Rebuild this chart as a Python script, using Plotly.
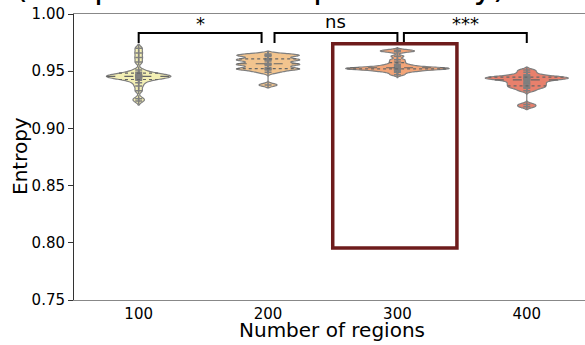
import numpy as np
import plotly.graph_objects as go

# ---- data ----
categories = ["100", "200", "300", "400"]
entropy_100 = [0.970, 0.966, 0.962, 0.958, 0.951, 0.949, 0.948, 0.947, 0.947, 0.946, 0.946, 0.946,
               0.945, 0.945, 0.945, 0.944, 0.944, 0.943, 0.942, 0.940, 0.937, 0.933, 0.926, 0.924]
entropy_200 = [0.965, 0.964, 0.964, 0.963, 0.961, 0.960, 0.960, 0.959, 0.957, 0.956, 0.956, 0.955,
               0.953, 0.952, 0.952, 0.951, 0.949, 0.938]
entropy_300 = [0.968, 0.968, 0.967, 0.963, 0.960, 0.958, 0.956, 0.955, 0.954, 0.953, 0.953, 0.953,
               0.953, 0.952, 0.952, 0.952, 0.952, 0.951, 0.951, 0.950, 0.949, 0.947]
entropy_400 = [0.951, 0.949, 0.947, 0.946, 0.945, 0.945, 0.944, 0.944, 0.944, 0.943, 0.943, 0.942,
               0.941, 0.940, 0.939, 0.938, 0.937, 0.936, 0.935, 0.933, 0.921, 0.919]
series = [entropy_100, entropy_200, entropy_300, entropy_400]
bandwidths = [0.0018, 0.0012, 0.0010, 0.0012]
violin_widths = [0.50, 0.49, 0.80, 0.64]
colors = ["#f3efb4", "#f2c48e", "#f2a477", "#e8806c"]

comparisons = [(0, 1, "*"), (1, 2, "ns"), (2, 3, "***")]
y_ticks = [0.75, 0.80, 0.85, 0.90, 0.95, 1.00]
title_text = "(Deep learned maps stability)"

fig = go.Figure()

for i, (vals, bw, w, c) in enumerate(zip(series, bandwidths, violin_widths, colors)):
    fig.add_trace(go.Violin(
        x=[i] * len(vals), y=vals, bandwidth=bw, width=w, scalemode="width",
        spanmode="soft", fillcolor=c, opacity=1,
        line=dict(color="#7f7f7f", width=1.2),
        points="all", pointpos=0, jitter=0,
        marker=dict(symbol="cross-thin", size=5, color="#7f7f7f",
                    line=dict(color="#7f7f7f", width=1.5)),
        box_visible=False, meanline_visible=False, showlegend=False,
        hoverinfo="skip",
    ))
    # quartile lines (seaborn inner="quartile")
    arr = np.array(vals)
    grid = np.linspace(arr.min() - 2 * bw, arr.max() + 2 * bw, 400)
    dens = lambda y: np.exp(-0.5 * ((y - arr[:, None]) / bw) ** 2).sum(axis=0)
    dmax = dens(grid).max()
    for q, dash in [(25, "dot"), (50, "dash"), (75, "dot")]:
        qv = np.percentile(arr, q)
        hw = w / 2 * dens(np.array([qv]))[0] / dmax
        fig.add_trace(go.Scatter(
            x=[i - hw, i + hw], y=[qv, qv], mode="lines",
            line=dict(color="#666666", width=1.2, dash=dash),
            showlegend=False, hoverinfo="skip"))

# significance brackets
leg_low = 0.9747
top = 0.9834
for a, b, lab in comparisons:
    xa = a + (0.05 if a > 0 else 0)
    xb = b - (0.05 if b == 1 and a == 0 else 0)
    fig.add_trace(go.Scatter(
        x=[xa, xa, xb, xb], y=[leg_low, top, top, leg_low], mode="lines",
        line=dict(color="black", width=2), showlegend=False, hoverinfo="skip"))
    fig.add_annotation(x=(xa + xb) / 2, y=top, text=lab, showarrow=False,
                       yanchor="bottom", yshift=-3 if lab != "ns" else -1,
                       font=dict(family="DejaVu Sans", size=18, color="black"))

# highlight rectangle
fig.add_shape(type="rect", x0=1.5, x1=2.46, y0=0.7955, y1=0.974,
              line=dict(color="#6e1c1c", width=3.5), fillcolor="rgba(0,0,0,0)")

fig.update_layout(
    width=585, height=345,
    margin=dict(l=74, r=0, t=14, b=45),
    plot_bgcolor="white", paper_bgcolor="white",
    font=dict(family="DejaVu Sans", size=15, color="black"),
    xaxis=dict(range=[-0.5, 3.45], tickmode="array", tickvals=[0, 1, 2, 3],
               ticktext=categories, showline=True, linecolor="#888888", linewidth=1.3,
               mirror=True, showgrid=False, zeroline=False, ticks="", tickfont=dict(size=15)),
    yaxis=dict(range=[0.75, 1.0], tickmode="array", tickvals=y_ticks,
               tickformat=".2f", showline=True, linecolor="#333333", linewidth=1,
               ticks="outside", ticklen=5, tickcolor="#333333",
               showgrid=False, zeroline=False, tickfont=dict(size=15)),
)

fig.add_annotation(xref="paper", yref="paper", x=(332 - 74) / 511, y=0, yshift=-44,
                   text="Number of regions", showarrow=False, yanchor="bottom",
                   font=dict(size=20))
fig.add_annotation(xref="paper", yref="paper", x=0, xshift=-54, y=(300 - 156) / 286,
                   text="Entropy", showarrow=False, textangle=-90, xanchor="center",
                   yanchor="middle", font=dict(size=20))
fig.add_annotation(xref="paper", yref="paper", x=(260 - 74) / 511, y=1, yshift=6,
                   text=title_text, showarrow=False, xanchor="center", yanchor="bottom",
                   font=dict(size=33, color="black"))

fig.write_html("out.html", config={"displayModeBar": False},
               post_script="document.body.style.margin='0';")
